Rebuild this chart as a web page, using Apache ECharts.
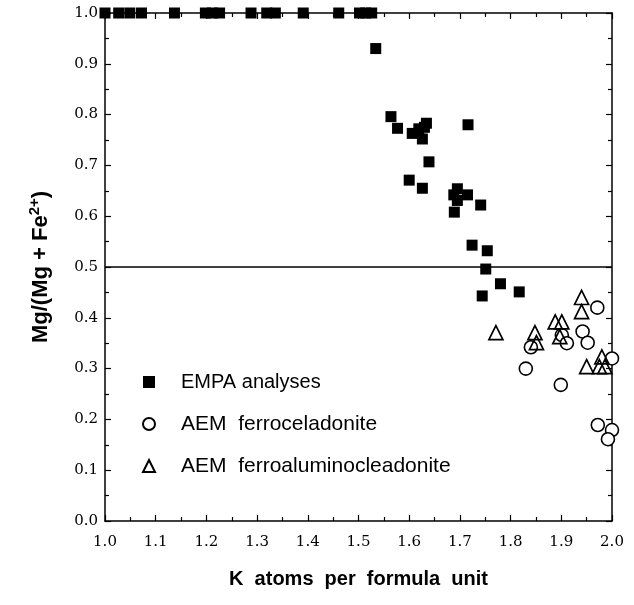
<!DOCTYPE html>
<html>
<head>
<meta charset="utf-8">
<script src="https://cdn.jsdelivr.net/npm/echarts@6/dist/echarts.min.js"></script>
<style>html,body{margin:0;padding:0;background:#fff}#c{width:634px;height:605px}</style>
</head>
<body>
<div id="c"></div>
<script>
// EMPA analyses (filled squares): [K apfu, Mg/(Mg+Fe2+)]
const empaX = [1.0, 1.027, 1.049, 1.072, 1.137, 1.198, 1.212, 1.226, 1.288, 1.319, 1.336, 1.391, 1.461, 1.502, 1.514, 1.526,
  1.534, 1.564, 1.577, 1.606, 1.619, 1.626, 1.634, 1.630, 1.716, 1.639, 1.600, 1.626, 1.695, 1.688, 1.715, 1.695, 1.689,
  1.741, 1.724, 1.754, 1.751, 1.780, 1.744, 1.817];
const empaY = [1.0, 1.0, 1.0, 1.0, 1.0, 1.0, 1.0, 1.0, 1.0, 1.0, 1.0, 1.0, 1.0, 1.0, 1.0, 1.0,
  0.930, 0.796, 0.773, 0.763, 0.772, 0.752, 0.783, 0.775, 0.780, 0.707, 0.671, 0.655, 0.654, 0.642, 0.642, 0.631, 0.608,
  0.622, 0.543, 0.532, 0.496, 0.467, 0.443, 0.451];
// AEM ferroceladonite (open circles)
const celX = [1.971, 1.901, 1.911, 1.840, 1.830, 1.942, 1.952, 2.0, 1.899, 1.972, 2.0, 1.992];
const celY = [0.420, 0.366, 0.350, 0.342, 0.300, 0.373, 0.351, 0.320, 0.268, 0.189, 0.179, 0.161];
// AEM ferroaluminoceladonite (open triangles)
const alX = [1.771, 1.940, 1.940, 1.888, 1.901, 1.897, 1.848, 1.851, 1.950, 1.980, 1.986, 1.975];
const alY = [0.371, 0.440, 0.412, 0.392, 0.392, 0.363, 0.371, 0.351, 0.304, 0.323, 0.304, 0.304];
const refLine = 0.5;
const seriesNames = ['EMPA analyses', 'AEM  ferroceladonite', 'AEM  ferroaluminocleadonite'];

const zip = (xs, ys) => xs.map((x, i) => [x, ys[i]]);
const serifFont = '"DejaVu Serif", "Liberation Serif", serif';
const sansFont = '"Liberation Sans", Arial, sans-serif';

const baseAxis = {
  min: 0, max: 1, interval: 0.1,
  axisLine: { show: true, onZero: false, lineStyle: { color: '#000', width: 1.5 } },
  axisTick: { show: true, inside: true, length: 6, lineStyle: { color: '#000', width: 1.2 } },
  minorTick: { show: true, splitNumber: 2, length: 4, lineStyle: { color: '#000', width: 1.2 } },
  splitLine: { show: false },
  minorSplitLine: { show: false }
};

const chart = echarts.init(document.getElementById('c'), null, { renderer: 'canvas' });
chart.setOption({
  animation: false,
  backgroundColor: '#fff',
  grid: { left: 105, right: 22, top: 13, bottom: 84 },
  legend: {
    orient: 'vertical', left: 137, top: 366, itemGap: 20,
    itemWidth: 12, itemHeight: 12,
    data: [
      { name: seriesNames[0] },
      { name: seriesNames[1], textStyle: { fontSize: 21 } },
      { name: seriesNames[2], textStyle: { fontSize: 21 } }
    ],
    textStyle: { fontFamily: sansFont, fontSize: 20, lineHeight: 22, color: '#000', padding: [0, 0, 0, 21] },
    selectedMode: false
  },
  xAxis: [
    Object.assign({}, baseAxis, {
      type: 'value', position: 'bottom', min: 1.0, max: 2.0, interval: 0.1,
      axisLabel: { show: true, margin: 14, fontFamily: serifFont, fontSize: 15, color: '#000', formatter: v => v.toFixed(1) },
      name: 'K  atoms  per  formula  unit', nameLocation: 'middle', nameGap: 48,
      nameTextStyle: { fontFamily: sansFont, fontSize: 20, fontWeight: 'bold', color: '#000' }
    }),
    Object.assign({}, baseAxis, {
      type: 'value', position: 'top', min: 1.0, max: 2.0, interval: 0.1,
      axisLabel: { show: false }
    })
  ],
  yAxis: [
    Object.assign({}, baseAxis, {
      type: 'value', position: 'left',
      axisLabel: { show: true, margin: 7, fontFamily: serifFont, fontSize: 15, color: '#000', formatter: v => v.toFixed(1) },
      name: '{m|Mg/(Mg + Fe}{s|2+}{m|)}', nameLocation: 'middle', nameGap: 50,
      nameTextStyle: {
        rich: {
          m: { fontFamily: sansFont, fontSize: 22, fontWeight: 'bold', color: '#000' },
          s: { fontFamily: sansFont, fontSize: 15, fontWeight: 'bold', color: '#000', verticalAlign: 'bottom', padding: [0, 0, 13, 0] }
        }
      }
    }),
    Object.assign({}, baseAxis, {
      type: 'value', position: 'right',
      axisLabel: { show: false }
    })
  ],
  series: [
    {
      name: seriesNames[0], type: 'scatter', clip: false,
      symbol: 'rect', symbolSize: 11,
      itemStyle: { color: '#000', opacity: 1 },
      data: zip(empaX, empaY),
      markLine: {
        silent: true, symbol: 'none', label: { show: false },
        lineStyle: { color: '#000', width: 1.5, type: 'solid' },
        data: [{ yAxis: refLine }]
      }
    },
    {
      name: seriesNames[1], type: 'scatter', clip: false,
      symbol: 'circle', symbolSize: 13,
      itemStyle: { color: '#fff', borderColor: '#000', borderWidth: 1.6, opacity: 1 },
      data: zip(celX, celY)
    },
    {
      name: seriesNames[2], type: 'scatter', clip: false,
      symbol: 'triangle', symbolSize: 14,
      itemStyle: { color: 'rgba(255,255,255,0)', borderColor: '#000', borderWidth: 1.7, opacity: 1 },
      data: zip(alX, alY)
    }
  ]
});
</script>
</body>
</html>
